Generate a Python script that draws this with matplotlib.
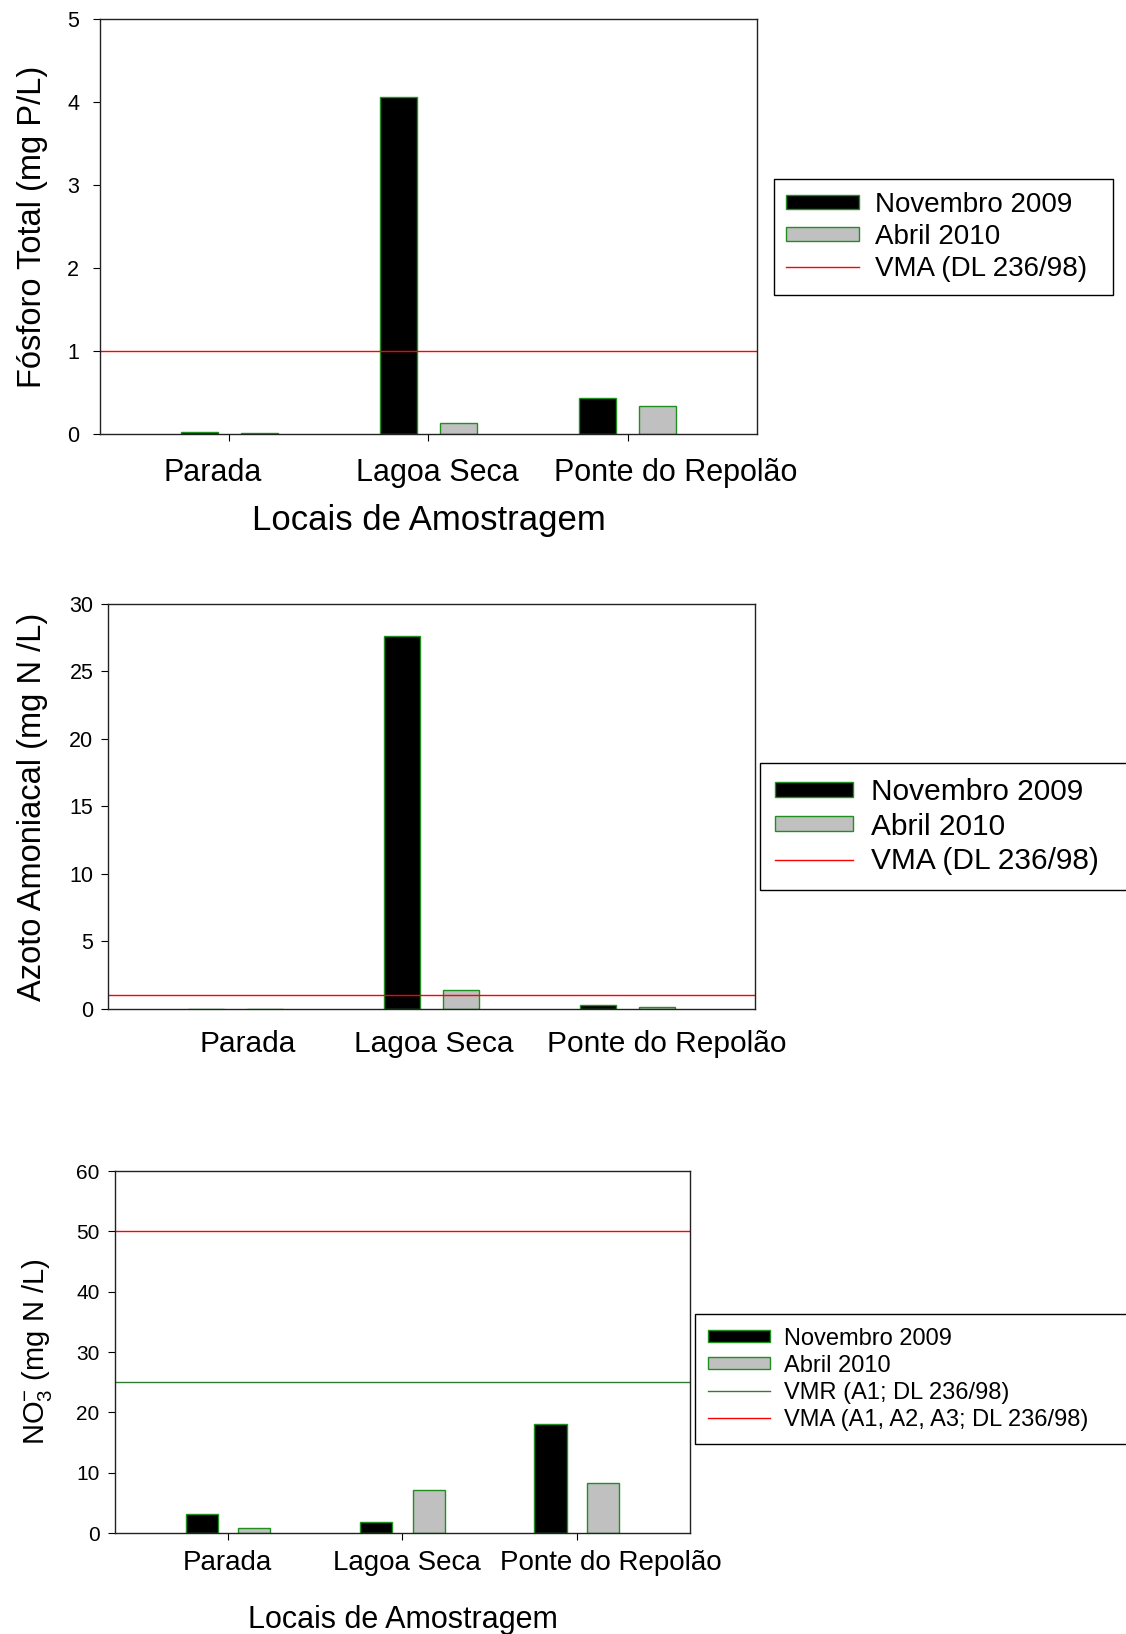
import numpy as np
import matplotlib
matplotlib.use('Agg')
import matplotlib.pyplot as plt
import matplotlib.transforms as mtransforms
from matplotlib.patches import Patch
from matplotlib.lines import Line2D

plt.rcParams['font.family'] = ['Liberation Sans', 'DejaVu Sans']
plt.rcParams['mathtext.default'] = 'regular'

sites = ['Parada', 'Lagoa Seca', 'Ponte do Repolão']
series = ['Novembro 2009', 'Abril 2010']

fosforo_nov = [0.025, 4.06, 0.43]
fosforo_abr = [0.012, 0.135, 0.34]
fosforo_vma = 1.0

azoto_nov = [0.0, 27.6, 0.28]
azoto_abr = [0.0, 1.40, 0.15]
azoto_vma = 1.0

nitrato_nov = [3.1, 1.75, 18.1]
nitrato_abr = [0.8, 7.1, 8.3]
nitrato_vmr = 25.0
nitrato_vma = 50.0

GREEN = '#1f8f1f'
GREY = '#c0c0c0'
RED = '#ff0000'

fig = plt.figure(figsize=(11.26, 16.34), dpi=100)
x = np.arange(1, len(sites) + 1)


def draw_bars(ax, nov, abr):
    ax.bar(x - 0.15, nov, width=0.185, color='black', edgecolor=GREEN, linewidth=1.0)
    ax.bar(x + 0.15, abr, width=0.185, color=GREY, edgecolor=GREEN, linewidth=1.0)
    ax.set_xlim(0.35, 3.65)
    ax.set_xticks(x)
    for s in ax.spines.values():
        s.set_linewidth(1.0)
        s.set_color('#222222')


def shift_labels(ax, offsets):
    for lab, dx in zip(ax.get_xticklabels(), offsets):
        lab.set_transform(lab.get_transform() +
                          mtransforms.ScaledTranslation(dx / 100, 0, fig.dpi_scale_trans))


def make_legend(ax, handles, labels, anchor, fs, spacing, bpad):
    leg = ax.legend(handles, labels, loc='upper left', bbox_to_anchor=anchor,
                    bbox_transform=fig.transFigure, mode='expand', fontsize=fs,
                    frameon=True, fancybox=False, edgecolor='black', framealpha=1,
                    handlelength=2.6, handleheight=0.4, handletextpad=0.6,
                    labelspacing=spacing, borderpad=bpad, borderaxespad=0)
    leg.get_frame().set_linewidth(1.0)
    return leg


def ylabel(ax, text, fs, xpos):
    ax.set_ylabel(text, fontsize=fs)
    ax.yaxis.set_label_coords(xpos, 0.5)
    ax.yaxis.label.set_verticalalignment('center')


# Fósforo total
ax1 = fig.add_axes([0.0888, 0.7344, 0.5835, 0.254])
draw_bars(ax1, fosforo_nov, fosforo_abr)
ax1.axhline(fosforo_vma, color=RED, linewidth=1.0)
ax1.set_ylim(0, 5)
ax1.set_yticks(range(0, 6))
ax1.set_xticklabels(sites, fontsize=22)
ax1.tick_params(axis='y', labelsize=15.5, direction='out', length=5, pad=10)
ax1.tick_params(axis='x', direction='out', length=5, pad=12)
shift_labels(ax1, [-17, 9, 48])
ylabel(ax1, 'Fósforo Total (mg P/L)', 23.5, -0.103)
ax1.set_xlabel('Locais de Amostragem', fontsize=25)
ax1.xaxis.set_label_coords(0.5, -0.208)
ax1.xaxis.label.set_verticalalignment('center')
make_legend(ax1,
            [Patch(facecolor='black', edgecolor=GREEN), Patch(facecolor=GREY, edgecolor=GREEN),
             Line2D([], [], color=RED, linewidth=1.0)],
            series + ['VMA (DL 236/98)'], (0.687, 0.8905, 0.3015, 0), 20, 0.22, 0.46)

# Azoto amoniacal
ax2 = fig.add_axes([0.0959, 0.3825, 0.5746, 0.2479])
draw_bars(ax2, azoto_nov, azoto_abr)
ax2.axhline(azoto_vma, color=RED, linewidth=1.0)
ax2.set_ylim(0, 30)
ax2.set_yticks(range(0, 31, 5))
ax2.set_xticklabels(sites, fontsize=21.5)
ax2.tick_params(axis='y', labelsize=15.5, direction='out', length=5, pad=5.5)
ax2.tick_params(axis='x', length=0, pad=15)
shift_labels(ax2, [12, 2, 39])
ylabel(ax2, 'Azoto Amoniacal (mg N /L)', 23.5, -0.117)
make_legend(ax2,
            [Patch(facecolor='black', edgecolor=GREEN), Patch(facecolor=GREY, edgecolor=GREEN),
             Line2D([], [], color=RED, linewidth=1.0)],
            series + ['VMA (DL 236/98)'], (0.675, 0.533, 0.33, 0), 21.5, 0.21, 0.51)

# Nitrato
ax3 = fig.add_axes([0.1021, 0.0618, 0.5107, 0.2215])
draw_bars(ax3, nitrato_nov, nitrato_abr)
ax3.axhline(nitrato_vmr, color='#2e7d32', linewidth=1.0)
ax3.axhline(nitrato_vma, color=RED, linewidth=1.0)
ax3.set_ylim(0, 60)
ax3.set_yticks(range(0, 61, 10))
ax3.set_xticklabels(sites, fontsize=20)
ax3.tick_params(axis='y', labelsize=15, direction='out', length=5, pad=6)
ax3.tick_params(axis='x', direction='out', length=5, pad=7)
shift_labels(ax3, [-1, 4, 34])
ylabel(ax3, 'NO$_3^{-}$ (mg N /L)', 21, -0.136)
ax3.set_xlabel('Locais de Amostragem', fontsize=22)
ax3.xaxis.set_label_coords(0.5, -0.24)
ax3.xaxis.label.set_verticalalignment('center')
make_legend(ax3,
            [Patch(facecolor='black', edgecolor=GREEN), Patch(facecolor=GREY, edgecolor=GREEN),
             Line2D([], [], color='#2e7d32', linewidth=1.0), Line2D([], [], color=RED, linewidth=1.0)],
            series + ['VMR (A1; DL 236/98)', 'VMA (A1, A2, A3; DL 236/98)'],
            (0.617, 0.1958, 0.385, 0), 17, 0.21, 0.58)

fig.savefig('out.png', dpi=100)
